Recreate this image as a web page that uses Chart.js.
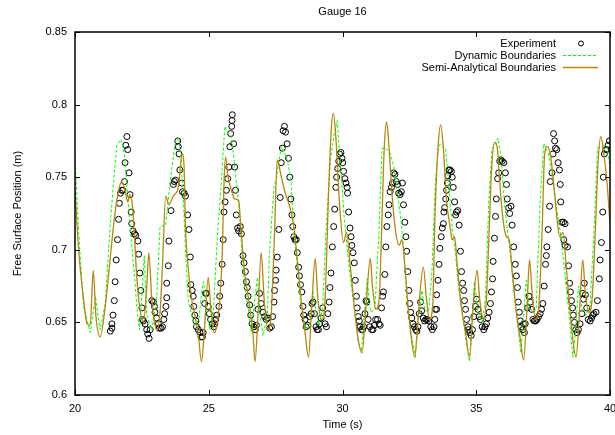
<!DOCTYPE html>
<html>
<head>
<meta charset="utf-8">
<script src="https://cdn.jsdelivr.net/npm/chart.js@4.4.1/dist/chart.umd.min.js"></script>
<style>
  html, body { margin: 0; padding: 0; background: #fff; }
  #wrap { width: 615px; height: 435px; }
</style>
</head>
<body>
<div id="wrap"><canvas id="chart" width="615" height="435"></canvas></div>
<script>
const xTicks = [20, 25, 30, 35, 40];
const xTickLabels = ["20", "25", "30", "35", "40"];
const yTicks = [0.6, 0.65, 0.7, 0.75, 0.8, 0.85];
const yTickLabels = ["0.6", "0.65", "0.7", "0.75", "0.8", "0.85"];

// Experiment (circles)
const expX = [
  21.32,21.38,21.38,21.42,21.47,21.50,21.54,21.59,21.63,21.66,21.70,21.75,21.79,21.85,21.87,21.90,21.94,21.97,22.02,22.06,
  22.10,22.12,22.17,22.22,22.27,22.35,22.38,22.42,22.46,22.50,22.52,22.56,22.62,22.68,22.72,22.77,22.81,22.87,22.93,22.97,
  22.99,23.05,23.12,23.15,23.22,23.27,23.32,23.35,23.40,23.43,
  23.43,23.49,23.51,23.59,23.68,23.71,23.76,23.84,23.86,23.89,23.92,23.99,24.02,24.08,24.13,24.21,24.26,24.31,24.33,24.38,
  24.42,24.44,24.48,24.52,24.54,24.61,24.67,24.71,24.76,24.79,24.85,24.88,24.92,24.98,25.02,25.07,25.13,25.19,25.23,25.26,
  25.30,25.38,25.41,25.45,25.50,25.54,25.57,25.61,25.66,25.71,25.75,25.79,25.82,25.86,25.87,25.88,25.93,25.97,26.00,26.03,
  26.08,26.12,26.18,26.22,26.28,26.32,26.37,26.41,26.44,26.47,26.53,26.57,26.62,26.69,26.74,
  26.78,26.84,26.90,26.96,27.03,27.09,27.15,27.21,27.28,27.34,27.39,27.44,27.46,27.50,27.52,27.56,27.62,27.67,27.71,27.75,
  27.78,27.83,27.87,27.93,27.98,28.03,28.07,28.11,28.14,28.18,28.22,28.27,28.31,28.36,28.39,28.43,28.48,28.52,28.55,28.60,
  28.64,28.70,28.77,28.83,28.86,28.90,28.95,29.01,29.05,29.10,29.14,29.20,29.26,29.35,29.40,29.45,29.50,29.53,29.57,29.62,
  29.67,29.71,29.75,29.78,29.82,29.86,29.89,
  29.94,29.98,30.01,30.04,30.09,30.13,30.17,30.19,30.23,30.28,30.32,30.35,30.39,30.44,30.48,30.52,30.55,30.59,30.63,30.66,
  30.71,30.75,30.79,30.84,30.88,30.91,30.96,31.02,31.09,31.14,31.19,31.24,31.31,31.37,31.41,31.46,31.50,31.53,31.58,31.62,
  31.66,31.71,31.74,31.78,31.83,31.87,31.91,31.96,32.01,32.06,32.10,32.15,32.20,32.24,32.28,32.33,32.37,32.40,32.44,32.48,
  32.51,32.55,32.59,32.64,32.69,32.74,32.78,32.82,32.87,32.92,32.96,33.02,33.07,33.12,33.17,33.23,33.30,33.36,33.42,33.47,
  33.45,33.52,33.52,33.57,33.61,33.64,33.69,33.73,33.77,33.79,33.82,33.86,33.89,33.92,33.94,33.98,34.02,34.07,34.10,34.14,
  34.19,34.23,34.26,34.31,34.36,34.41,34.45,34.49,34.53,34.56,34.60,34.64,34.69,34.72,34.76,34.81,34.86,34.91,34.97,35.01,
  35.06,35.11,35.16,35.22,35.28,35.33,35.38,35.43,35.48,35.53,35.57,35.61,35.63,35.68,35.72,35.75,35.80,35.84,35.88,35.92,
  35.97,36.03,36.09,36.13,36.16,36.21,36.25,36.30,36.34,36.40,36.46,36.50,36.54,36.57,36.61,36.65,36.69,36.74,36.80,
  36.77,36.83,36.92,36.97,37.02,37.07,37.12,37.17,37.22,37.27,37.33,37.39,37.44,37.49,37.54,37.59,37.62,37.64,37.69,37.74,
  37.77,37.83,37.87,37.89,37.93,37.96,38.01,38.06,38.11,38.14,38.16,38.20,38.26,38.32,38.27,38.32,38.41,38.45,38.49,38.52,
  38.56,38.60,38.63,38.67,38.72,38.77,38.82,38.88,38.95,38.98,39.01,39.04,39.08,39.13,39.19,39.26,39.31,39.35,39.40,39.48,
  39.53,39.60,39.63,39.68,39.73,39.75,39.79,39.84,39.88,39.93,39.98
];
const expY = [
  0.644,0.646,0.649,0.655,0.665,0.678,0.693,0.707,0.721,0.732,0.739,0.741,0.741,0.747,0.760,0.772,0.778,0.769,0.753,0.738,
  0.726,0.718,0.713,0.711,0.710,0.706,0.697,0.684,0.672,0.660,0.652,0.651,0.649,0.645,0.642,0.639,0.645,0.665,0.664,0.661,
  0.657,0.653,0.649,0.646,0.646,0.647,0.652,0.656,0.661,0.667,
  0.677,0.689,0.706,0.727,0.745,0.747,0.748,0.775,0.771,0.766,0.755,0.746,0.740,0.739,0.737,0.724,0.714,0.695,0.676,0.672,
  0.668,0.661,0.655,0.651,0.647,0.645,0.643,0.640,0.640,0.643,0.663,0.670,0.670,0.661,0.656,0.652,0.649,0.647,0.649,0.652,
  0.655,0.661,0.668,0.677,0.690,0.707,0.726,0.733,0.741,0.749,0.757,0.771,0.780,0.785,0.789,0.793,0.773,0.757,0.741,0.724,
  0.715,0.713,0.716,0.711,0.696,0.691,0.685,0.678,0.674,0.668,0.662,0.655,0.649,0.647,0.645,
  0.648,0.659,0.670,0.663,0.657,0.654,0.652,0.653,0.646,0.647,0.654,0.664,0.672,0.679,0.686,0.695,0.714,0.736,0.760,0.770,
  0.782,0.785,0.781,0.773,0.763,0.750,0.735,0.724,0.716,0.709,0.707,0.707,0.698,0.688,0.682,0.676,0.671,0.661,0.655,0.652,
  0.647,0.648,0.654,0.656,0.663,0.664,0.656,0.647,0.645,0.645,0.649,0.653,0.660,0.649,0.647,0.656,0.664,0.674,0.684,0.702,
  0.716,0.728,0.743,0.750,0.756,0.761,0.766,
  0.767,0.763,0.760,0.754,0.749,0.746,0.743,0.739,0.726,0.715,0.709,0.703,0.698,0.691,0.679,0.668,0.660,0.654,0.651,0.647,
  0.645,0.645,0.647,0.656,0.665,0.664,0.652,0.647,0.645,0.645,0.648,0.652,0.652,0.649,0.648,0.660,0.668,0.671,0.683,0.702,
  0.716,0.724,0.731,0.740,0.743,0.746,0.753,0.752,0.747,0.745,0.739,0.738,0.740,0.746,0.731,0.719,0.709,0.699,0.685,0.672,
  0.663,0.657,0.653,0.649,0.647,0.645,0.644,0.647,0.656,0.664,0.658,0.653,0.651,0.652,0.652,0.651,0.647,0.645,0.647,0.659,
  0.652,0.659,0.669,0.679,0.690,0.701,0.709,0.715,0.718,0.726,0.729,0.735,0.741,0.746,0.751,0.755,0.755,0.754,0.750,0.743,
  0.733,0.724,0.726,0.727,0.717,0.699,0.685,0.677,0.672,0.665,0.659,0.652,0.647,0.645,0.643,0.641,0.645,0.654,0.661,0.666,
  0.659,0.654,0.652,0.647,0.645,0.647,0.649,0.653,0.657,0.663,0.671,0.680,0.692,0.708,0.723,0.735,0.749,0.753,0.761,0.762,
  0.761,0.760,0.753,0.745,0.735,0.729,0.725,0.730,0.717,0.702,0.690,0.682,0.674,0.664,0.657,0.651,0.647,0.645,0.643,
  0.649,0.649,0.660,0.668,0.664,0.659,0.652,0.651,0.651,0.652,0.654,0.656,0.659,0.663,0.675,0.690,0.696,0.702,0.714,0.730,
  0.747,0.753,0.766,0.780,0.775,0.770,0.769,0.760,0.755,0.745,0.733,0.719,0.719,0.718,0.707,0.703,0.702,0.689,0.677,0.671,
  0.665,0.660,0.655,0.650,0.645,0.643,0.645,0.649,0.656,0.670,0.666,0.677,0.669,0.660,0.652,0.651,0.653,0.655,0.656,0.657,
  0.665,0.680,0.693,0.705,0.726,0.750,0.766,0.769,0.769,0.772,0.775
];

// Dynamic Boundaries (green dashed)
const dynX = [
  20.00,20.14,20.32,20.57,20.76,20.94,21.13,21.31,21.44,21.56,21.72,21.85,21.94,22.06,22.19,22.31,22.41,22.52,22.59,22.68,
  22.87,23.05,23.18,23.39,23.55,23.74,23.88,23.95,24.04,24.13,24.23,24.36,24.48,24.63,24.73,24.80,24.92,25.04,25.17,25.33,
  25.46,25.60,25.72,25.85,25.97,26.07,26.16,26.25,26.34,26.47,26.59,26.72,26.82,26.92,27.03,27.19,27.27,27.44,27.52,27.71,
  27.83,27.96,28.08,28.18,28.31,28.45,28.64,28.77,28.89,29.01,29.13,29.26,29.38,29.55,29.69,29.80,29.93,30.06,30.24,30.43,
  30.59,30.71,30.84,30.92,31.05,31.21,31.36,31.48,31.61,31.79,31.92,32.04,32.17,32.29,32.41,32.58,32.72,32.85,32.97,33.07,
  33.22,33.34,33.47,33.59,33.67,33.85,33.97,34.10,34.23,34.35,34.51,34.64,34.75,34.85,34.93,35.06,35.22,35.34,35.47,35.59,
  35.71,35.81,35.93,36.02,36.15,36.28,36.40,36.55,36.67,36.77,36.87,36.97,37.12,37.24,37.39,37.52,37.70,37.89,38.01,38.14,
  38.26,38.39,38.51,38.61,38.73,38.82,38.94,39.10,39.25,39.40,39.53,39.73,39.89,40.00
];
const dynY = [
  0.764,0.711,0.661,0.643,0.668,0.645,0.663,0.716,0.746,0.772,0.776,0.766,0.744,0.716,0.689,0.661,0.645,0.674,0.696,0.655,
  0.645,0.666,0.716,0.717,0.746,0.773,0.777,0.764,0.741,0.700,0.666,0.655,0.648,0.652,0.670,0.678,0.661,0.645,0.657,0.712,
  0.744,0.785,0.780,0.778,0.757,0.741,0.723,0.696,0.675,0.661,0.643,0.666,0.681,0.655,0.641,0.655,0.698,0.744,0.748,0.771,
  0.767,0.760,0.746,0.712,0.689,0.661,0.645,0.647,0.672,0.657,0.648,0.661,0.712,0.762,0.780,0.789,0.757,0.723,0.689,0.661,
  0.636,0.630,0.661,0.680,0.657,0.659,0.712,0.770,0.770,0.766,0.757,0.741,0.723,0.700,0.666,0.641,0.626,0.655,0.672,0.659,
  0.657,0.684,0.746,0.771,0.773,0.770,0.746,0.716,0.696,0.672,0.652,0.634,0.623,0.655,0.678,0.657,0.650,0.666,0.734,0.770,
  0.773,0.777,0.764,0.739,0.716,0.696,0.672,0.648,0.629,0.655,0.679,0.661,0.657,0.659,0.734,0.773,0.766,0.746,0.728,0.712,
  0.693,0.670,0.648,0.626,0.648,0.675,0.661,0.655,0.661,0.712,0.770,0.771,0.771,0.757
];

// Semi-Analytical Boundaries (brown solid)
const semiX = [
  20.00,20.14,20.32,20.45,20.57,20.68,20.78,20.94,21.13,21.31,21.48,21.63,21.75,21.87,21.97,22.06,22.15,22.23,22.31,22.43,
  22.56,22.68,22.76,22.87,23.05,23.18,23.27,23.39,23.51,23.67,23.86,24.01,24.08,24.13,24.23,24.36,24.48,24.60,24.73,24.83,
  24.98,25.08,25.20,25.29,25.41,25.51,25.57,25.63,25.72,25.85,25.97,26.12,26.19,26.32,26.49,26.65,26.73,26.84,26.96,27.07,
  27.21,27.34,27.46,27.56,27.68,27.83,28.02,28.18,28.31,28.45,28.60,28.73,28.85,28.98,29.08,29.23,29.35,29.47,29.57,29.66,
  29.76,29.88,30.04,30.15,30.29,30.44,30.59,30.73,30.88,31.04,31.12,31.25,31.37,31.46,31.56,31.65,31.74,31.87,31.99,32.12,
  32.22,32.33,32.45,32.58,32.70,32.83,33.02,33.14,33.25,33.37,33.46,33.57,33.67,33.77,33.89,34.02,34.10,34.19,34.29,34.44,
  34.60,34.75,34.87,35.03,35.13,35.26,35.38,35.48,35.58,35.68,35.78,35.88,36.00,36.13,36.23,36.35,36.50,36.65,36.77,36.90,
  36.99,37.09,37.22,37.33,37.46,37.55,37.64,37.77,37.89,38.02,38.12,38.24,38.36,38.49,38.61,38.73,38.86,38.98,39.08,39.21,
  39.33,39.45,39.56,39.66,39.77,39.89,40.00
];
const semiY = [
  0.742,0.699,0.666,0.649,0.648,0.686,0.655,0.640,0.661,0.693,0.723,0.741,0.747,0.741,0.733,0.738,0.730,0.707,0.681,0.659,
  0.650,0.674,0.698,0.666,0.645,0.657,0.689,0.737,0.731,0.737,0.743,0.766,0.756,0.716,0.688,0.666,0.655,0.643,0.623,0.643,
  0.681,0.660,0.643,0.647,0.665,0.700,0.746,0.764,0.750,0.741,0.735,0.734,0.718,0.688,0.666,0.643,0.623,0.655,0.698,0.666,
  0.645,0.657,0.712,0.762,0.753,0.741,0.730,0.716,0.693,0.666,0.643,0.626,0.661,0.694,0.666,0.652,0.666,0.734,0.780,0.794,
  0.775,0.734,0.705,0.712,0.689,0.661,0.638,0.629,0.661,0.694,0.675,0.659,0.666,0.712,0.770,0.788,0.770,0.734,0.712,0.703,
  0.707,0.689,0.661,0.638,0.626,0.655,0.688,0.666,0.652,0.661,0.725,0.770,0.786,0.770,0.734,0.716,0.707,0.709,0.689,0.661,
  0.643,0.626,0.657,0.686,0.666,0.652,0.666,0.712,0.757,0.774,0.771,0.746,0.721,0.709,0.707,0.684,0.657,0.638,0.624,0.661,
  0.693,0.670,0.652,0.659,0.712,0.764,0.771,0.766,0.746,0.721,0.709,0.712,0.689,0.661,0.638,0.626,0.657,0.693,0.670,0.657,
  0.666,0.712,0.762,0.778,0.766,0.746,0.718
];

const toPoints = (xs, ys) => xs.map((x, i) => ({ x: x, y: ys[i] }));

Chart.defaults.font.family = "'Liberation Sans', Arial, sans-serif";
Chart.defaults.font.size = 11;
Chart.defaults.color = "#000";

// gnuplot style frame: box, inward ticks on all four sides, title and key
const framePlugin = {
  id: "frame",
  afterDraw(chart) {
    const { ctx, chartArea: a } = chart;
    const xs = chart.scales.x, ys = chart.scales.y;
    ctx.save();
    ctx.strokeStyle = "#000";
    ctx.lineWidth = 1;
    xTicks.forEach(v => {
      const p = Math.round(xs.getPixelForValue(v)) + 0.5;
      ctx.beginPath();
      ctx.moveTo(p, a.bottom); ctx.lineTo(p, a.bottom - 5);
      ctx.moveTo(p, a.top); ctx.lineTo(p, a.top + 5);
      ctx.stroke();
    });
    yTicks.forEach(v => {
      const p = Math.round(ys.getPixelForValue(v)) + 0.5;
      ctx.beginPath();
      ctx.moveTo(a.left, p); ctx.lineTo(a.left + 5, p);
      ctx.moveTo(a.right, p); ctx.lineTo(a.right - 5, p);
      ctx.stroke();
    });
    ctx.lineWidth = 1.5;
    ctx.strokeRect(a.left, a.top, a.right - a.left, a.bottom - a.top);

    ctx.fillStyle = "#000";
    ctx.font = "11px 'Liberation Sans', Arial, sans-serif";
    ctx.textAlign = "center";
    ctx.textBaseline = "middle";
    ctx.fillText("Gauge 16", (a.left + a.right) / 2, 12);

    ctx.textAlign = "right";
    chart.data.datasets.forEach((ds, i) => {
      const y = 43.5 + i * 12;
      ctx.fillStyle = "#000";
      ctx.fillText(ds.label, 556, y);
      ctx.strokeStyle = ds.borderColor;
      ctx.lineWidth = ds.borderWidth;
      ctx.setLineDash(ds.borderDash || []);
      ctx.beginPath();
      if (ds.showLine === false) {
        ctx.arc(581, y, 2.5, 0, Math.PI * 2);
      } else {
        ctx.moveTo(563, y); ctx.lineTo(598, y);
      }
      ctx.stroke();
      ctx.setLineDash([]);
    });
    ctx.restore();
  }
};

new Chart(document.getElementById("chart"), {
  type: "line",
  data: {
    datasets: [
      {
        label: "Experiment",
        data: toPoints(expX, expY),
        showLine: false,
        borderColor: "#000",
        borderWidth: 1,
        pointRadius: 3,
        pointBorderWidth: 1,
        pointBackgroundColor: "rgba(0,0,0,0)",
        pointBorderColor: "#000",
        order: 2
      },
      {
        label: "Dynamic Boundaries",
        data: toPoints(dynX, dynY),
        borderColor: "#00ff00",
        borderWidth: 1,
        borderDash: [3, 2],
        pointRadius: 0,
        tension: 0,
        order: 1
      },
      {
        label: "Semi-Analytical Boundaries",
        data: toPoints(semiX, semiY),
        borderColor: "#b8860b",
        borderWidth: 1.3,
        pointRadius: 0,
        cubicInterpolationMode: "monotone",
        order: 0
      }
    ]
  },
  options: {
    responsive: false,
    animation: false,
    layout: { padding: { top: 32, right: 3, left: 0, bottom: 0 } },
    plugins: {
      legend: { display: false },
      title: { display: false },
      tooltip: { enabled: false }
    },
    scales: {
      x: {
        type: "linear",
        min: 20,
        max: 40,
        afterFit: s => { s.height = 40; s.paddingLeft = 0; s.paddingRight = 0; },
        afterBuildTicks: s => { s.ticks = xTicks.map(v => ({ value: v })); },
        grid: { display: false, drawTicks: false },
        border: { display: false },
        ticks: {
          padding: 7,
          maxRotation: 0,
          callback: (v, i) => xTickLabels[i]
        },
        title: { display: true, text: "Time (s)", padding: { top: 0, bottom: 3 } }
      },
      y: {
        type: "linear",
        min: 0.6,
        max: 0.85,
        afterFit: s => { s.width = 75; s.paddingTop = 0; s.paddingBottom = 0; },
        afterBuildTicks: s => { s.ticks = yTicks.map(v => ({ value: v })); },
        grid: { display: false, drawTicks: false },
        border: { display: false },
        ticks: {
          padding: 8,
          callback: (v, i) => yTickLabels[i]
        },
        title: { display: true, text: "Free Surface Position (m)", padding: { top: 11, bottom: 0 } }
      }
    }
  },
  plugins: [framePlugin]
});
</script>
</body>
</html>
